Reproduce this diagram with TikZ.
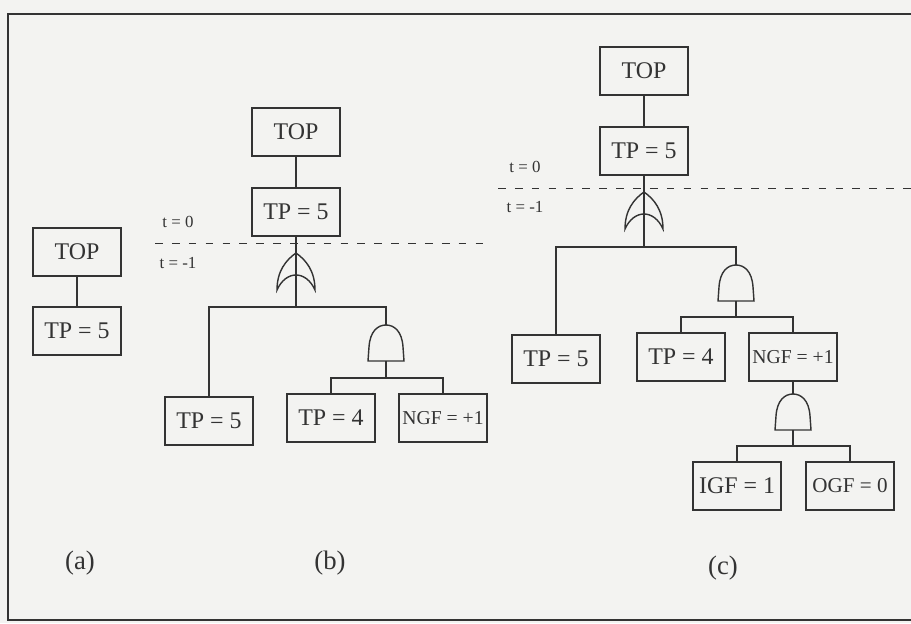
\documentclass[tikz,border=0pt]{standalone}
\usepackage{fontspec}
\setmainfont{Liberation Serif}
\usetikzlibrary{positioning}
\definecolor{ink}{HTML}{333333}
\definecolor{paper}{HTML}{F3F3F1}

\begin{document}
\begin{tikzpicture}[x=0.025cm,y=-0.025cm,
  ev/.style={rectangle,draw=ink,line width=1pt,minimum width=2.2cm,minimum height=1.2cm,inner sep=1pt,font=\fontsize{17}{20}\selectfont,text=ink},
  small/.style={font=\fontsize{14}{16}\selectfont},
  gate/.style={inner sep=0pt,minimum width=0.9cm,minimum height=0.9cm},
  wire/.style={draw=ink,line width=1pt},
  lbl/.style={font=\fontsize{12}{14}\selectfont,text=ink},
  sublbl/.style={font=\fontsize{19}{22}\selectfont,text=ink},
  andgate/.pic={\draw[wire] (-18,18) -- (-17,4) .. controls (-16,-12) and (-8,-18) .. (0,-18)
      .. controls (8,-18) and (16,-12) .. (17,4) -- (18,18) -- cycle;},
  orgate/.pic={\draw[wire] (-19,19) .. controls (-19,0) and (-10,-11) .. (0,-18)
      .. controls (10,-11) and (19,0) .. (19,19) .. controls (10,-1) and (-10,-1) .. cycle;}
]
  \fill[paper] (0,0) rectangle (911,623);
  \useasboundingbox (0,0) rectangle (911,623);
  \draw[wire] (911,14) -- (8,14) -- (8,620) -- (911,620);

  % (a)
  \node[ev] (topa) at (77,252) {TOP};
  \node[ev] (tpa) at (77,331) {TP = 5};
  \draw[wire] (topa) -- (tpa);

  % (b)
  \node[ev] (topb) at (296,132) {TOP};
  \node[ev] (tpb) at (296,212) {TP = 5};
  \node[gate] (orb) at (296,271) {};
  \pic at (orb) {orgate};
  \node[gate] (andb) at (386,343) {};
  \pic at (andb) {andgate};
  \coordinate (jb) at (296,307);
  \coordinate (kb) at (386,378);
  \node[ev] (tpb5) at (209,421) {TP = 5};
  \node[ev] (tpb4) at (331,418) {TP = 4};
  \node[ev,small] (ngfb) at (443,418) {NGF = +1};
  \draw[wire] (topb) -- (tpb) -- (jb);
  \draw[wire] (tpb5) |- (jb) -| (andb) -- (kb);
  \draw[wire] (tpb4) |- (kb) -| (ngfb);
  \draw[ink,line width=0.6pt,dash pattern=on 5.5pt off 6.5pt] (155,243) -- (490,243);
  \node[lbl] (t0b) at (178,222) {t = 0};
  \node[lbl] (t1b) at (178,263) {t = -1};

  % (c)
  \node[ev] (topc) at (644,71) {TOP};
  \node[ev] (tpc) at (644,151) {TP = 5};
  \node[gate] (orc) at (644,210) {};
  \pic at (orc) {orgate};
  \node[gate] (andc) at (736,283) {};
  \pic at (andc) {andgate};
  \node[gate] (andd) at (793,412) {};
  \pic at (andd) {andgate};
  \coordinate (jc) at (644,247);
  \coordinate (kc) at (736,317);
  \coordinate (kd) at (793,446);
  \node[ev] (tpc5) at (556,359) {TP = 5};
  \node[ev] (tpc4) at (681,357) {TP = 4};
  \node[ev,small] (ngfc) at (793,357) {NGF = +1};
  \node[ev] (igf) at (737,486) {IGF = 1};
  \node[ev,font=\fontsize{15}{18}\selectfont] (ogf) at (850,486) {OGF = 0};
  \draw[wire] (topc) -- (tpc) -- (jc);
  \draw[wire] (tpc5) |- (jc) -| (andc) -- (kc);
  \draw[wire] (tpc4) |- (kc) -| (ngfc) -- (andd) -- (kd);
  \draw[wire] (igf) |- (kd) -| (ogf);
  \draw[ink,line width=0.6pt,dash pattern=on 5.5pt off 6.5pt] (498,188) -- (911,188);
  \node[lbl] (t0c) at (525,167) {t = 0};
  \node[lbl] (t1c) at (525,207) {t = -1};

  \node[sublbl] (capa) at (80,563) {(a)};
  \node[sublbl] (capb) at (330,563) {(b)};
  \node[sublbl] (capc) at (723,568) {(c)};
\end{tikzpicture}
\end{document}
